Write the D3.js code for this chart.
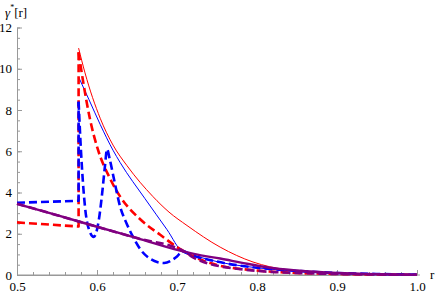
<!DOCTYPE html>
<html>
<head>
<meta charset="utf-8">
<script src="https://cdn.jsdelivr.net/npm/d3@7"></script>
<style>
  body { margin: 0; background: #fff; }
  svg { display: block; }
  svg text { font-family: 'Times New Roman', 'Liberation Serif', 'DejaVu Serif', serif !important; }
</style>
</head>
<body>
<svg id="chart"></svg>
<script>
var xMajor = [0.5, 0.6, 0.7, 0.8, 0.9, 1.0];
var yMajor = [0, 2, 4, 6, 8, 10, 12];

// pieces left of the jump at r = 0.577 (dashed curves only)
var redDashedLeft = [[0.5, 2.55], [0.577, 2.35]];
var blueDashedLeft = [[0.5, 3.5], [0.577, 3.6]];

// pieces right of the jump
var redThin = [[0.577, 11.0], [0.585, 9.8], [0.604, 7.6], [0.62, 6.3], [0.6375, 5.3], [0.67, 3.8],
  [0.69, 3.05], [0.7125, 2.4], [0.754, 1.35], [0.795, 0.63], [0.816, 0.4], [0.85, 0.2], [0.9, 0.08], [1.0, 0.0]];
var blueThin = [[0.577, 9.6], [0.59, 8.5], [0.604, 7.3], [0.62, 6.05], [0.629, 5.45], [0.66, 3.7],
  [0.6875, 2.2], [0.7075, 1.1], [0.73, 0.85], [0.75, 0.65], [0.8, 0.35], [0.85, 0.18], [0.9, 0.08], [1.0, 0.01]];
var redDashed = [[0.577, 10.8], [0.583, 9.3], [0.591, 7.6], [0.601, 6.1], [0.616, 4.7], [0.629, 3.8],
  [0.654, 2.7], [0.679, 1.95], [0.704, 1.25], [0.729, 0.75], [0.754, 0.45], [0.8, 0.22], [0.85, 0.1],
  [0.9, 0.05], [1.0, 0.01]];
var blueDashed = [[0.577, 8.4], [0.580, 6.0], [0.585, 3.3], [0.590, 2.2], [0.596, 1.85], [0.602, 2.6],
  [0.606, 3.8], [0.610, 5.3], [0.6125, 6.1], [0.616, 5.6], [0.622, 4.5], [0.629, 3.3], [0.637, 2.5],
  [0.645, 1.85], [0.655, 1.2], [0.666, 0.8], [0.676, 0.62], [0.684, 0.58], [0.693, 0.7], [0.700, 0.9],
  [0.707, 1.15], [0.72, 0.95], [0.75, 0.65], [0.8, 0.35], [0.85, 0.2], [0.9, 0.1], [0.95, 0.05], [1.0, 0.02]];
var purpleSolid = [[0.5, 3.45], [0.55, 2.9], [0.6, 2.34], [0.65, 1.79], [0.71, 1.12], [0.73, 0.95],
  [0.754, 0.8], [0.78, 0.6], [0.816, 0.35], [0.85, 0.22], [0.9, 0.1], [0.95, 0.04], [1.0, 0.01]];
var purpleDashed = [[0.5, 3.45], [0.55, 2.9], [0.6, 2.34], [0.65, 1.79], [0.71, 1.12], [0.72, 0.85],
  [0.73, 0.68], [0.754, 0.42], [0.78, 0.28], [0.8, 0.2], [0.85, 0.1], [0.9, 0.05], [1.0, 0.01]];

var width = 436, height = 294;
var svg = d3.select("#chart").attr("width", width).attr("height", height);

var x = d3.scaleLinear().domain([0.5, 1.0]).range([17, 417]);
var y = d3.scaleLinear().domain([0, 12]).range([275, 27.5]);

// axes, Mathematica style: ticks point inwards
var xAxisMinor = d3.axisBottom(x).tickValues(d3.range(0.5, 1.0001, 0.02)).tickSize(-3).tickSizeOuter(0).tickFormat("");
var xAxis = d3.axisBottom(x).tickValues(xMajor).tickSize(-5).tickSizeOuter(0).tickPadding(7).tickFormat(d3.format(".1f"));
var yAxisMinor = d3.axisLeft(y).tickValues(d3.range(0, 12.001, 0.5)).tickSize(-3).tickSizeOuter(0).tickFormat("");
var yAxis = d3.axisLeft(y).tickValues(yMajor).tickSize(-5).tickSizeOuter(0).tickPadding(5).tickFormat(d3.format("d"));

svg.append("g").attr("transform", "translate(0," + y(0) + ")").call(xAxisMinor);
var gx = svg.append("g").attr("transform", "translate(0," + y(0) + ")").call(xAxis);
gx.select(".domain").attr("d", "M" + x(0.5) + ",0H420");
svg.append("g").attr("transform", "translate(" + x(0.5) + ",0)").call(yAxisMinor);
svg.append("g").attr("transform", "translate(" + x(0.5) + ",0)").call(yAxis);
svg.selectAll(".domain, .tick line").attr("stroke", "#999");
svg.selectAll(".tick text")
  .attr("font-size", 13)
  .attr("fill", "#000");

var smooth = d3.line().x(function(d) { return x(d[0]); }).y(function(d) { return y(d[1]); }).curve(d3.curveMonotoneX);
var straight = d3.line().x(function(d) { return x(d[0]); }).y(function(d) { return y(d[1]); });

function draw(pts, color, w, dash, lineGen) {
  svg.append("path")
    .attr("d", lineGen(pts))
    .attr("fill", "none")
    .attr("stroke", color)
    .attr("stroke-width", w)
    .attr("stroke-dasharray", dash)
    .attr("stroke-linejoin", "round");
}

draw(redThin, "#ff0000", 1, null, smooth);
draw(blueThin, "#0000ff", 1, null, smooth);
draw(redDashedLeft.concat([redDashed[0]]), "#ff0000", 2.6, "8,4", straight);
draw(redDashed, "#ff0000", 2.6, "8,4", smooth);
draw(blueDashedLeft.concat([blueDashed[0]]), "#0000ff", 2.6, "8,4", straight);
draw(blueDashed, "#0000ff", 2.6, "8,4", smooth);
draw(purpleSolid, "#800080", 2.4, null, smooth);
draw(purpleDashed, "#800080", 2.6, "8,4", smooth);

// axis titles
var ylab = svg.append("text").attr("x", 5).attr("y", 17).attr("font-size", 13);
ylab.append("tspan").attr("font-style", "italic").text("γ");
ylab.append("tspan").attr("dy", -7).attr("font-size", 8).text("*");
ylab.append("tspan").attr("dy", 7).text("[r]");

svg.append("text").attr("x", 430).attr("y", 279).attr("font-size", 13).text("r");
</script>
</body>
</html>
